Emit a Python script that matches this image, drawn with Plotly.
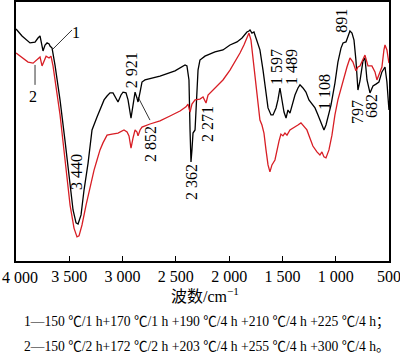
import plotly.graph_objects as go

# Curve 1 (black)
wn1 = [4000, 3944, 3869, 3822, 3794, 3775, 3747, 3728, 3709, 3690, 3681, 3662, 3634, 3587, 3540, 3493,
       3465, 3437, 3418, 3390, 3362, 3324, 3287, 3240, 3212, 3174, 3146, 3118, 3090, 3062, 3043, 3015,
       2996, 2968, 2949, 2921, 2902, 2883, 2865, 2855, 2836, 2818, 2790, 2649, 2508, 2414, 2396, 2377,
       2367, 2358, 2349, 2339, 2320, 2311, 2292, 2274, 2227, 2133, 2058, 1992, 1926, 1879, 1833, 1814,
       1804, 1786, 1767, 1748, 1711, 1682, 1664, 1635, 1607, 1588, 1560, 1542, 1523, 1504, 1485, 1466,
       1448, 1429, 1410, 1382, 1354, 1335, 1307, 1279, 1251, 1223, 1194, 1166, 1138, 1110, 1091, 1072,
       1044, 1007, 979, 950, 931, 903, 884, 866, 847, 828, 810, 791, 772, 744, 725, 706, 678, 650, 622,
       594, 566, 537, 519, 500]
t1 = [89.6, 86.9, 84.2, 84.5, 86.1, 86.9, 81.1, 83.4, 84.2, 83.8, 83.0, 82.2, 75.5, 62.1, 46.3, 28.4,
      19.7, 14.7, 14.3, 17.8, 27.4, 37.8, 50.6, 55.6, 58.3, 62.2, 63.7, 64.9, 64.9, 62.9, 61.4, 64.1,
      65.2, 64.9, 62.2, 55.2, 60.2, 65.2, 62.9, 61.4, 65.2, 69.1, 69.9, 71.4, 73.4, 75.7, 75.3, 69.9,
      50.6, 38.2, 42.9, 49.4, 50.6, 58.3, 73.7, 77.6, 79.1, 80.7, 81.5, 83.4, 84.6, 86.1, 88.4, 88.8,
      89.2, 88.0, 88.4, 86.1, 81.5, 73.7, 68.0, 59.1, 56.4, 56.4, 59.1, 62.2, 66.8, 62.2, 57.5, 55.2,
      58.3, 57.1, 59.8, 64.1, 66.8, 68.0, 66.8, 65.2, 62.2, 60.6, 59.1, 56.4, 53.7, 50.6, 52.5, 55.6,
      60.2, 68.7, 76.8, 82.2, 84.2, 84.6, 86.9, 88.8, 88.0, 85.3, 77.6, 66.0, 69.5, 77.2, 78.4, 69.9,
      64.9, 67.6, 68.3, 69.1, 73.0, 74.9, 69.1, 58.3]

# Curve 2 (red)
wn2 = [4000, 3944, 3887, 3840, 3812, 3775, 3756, 3737, 3718, 3690, 3672, 3653, 3625, 3587, 3540, 3493,
       3456, 3428, 3409, 3381, 3343, 3306, 3268, 3240, 3212, 3184, 3146, 3099, 3043, 2987, 2958, 2940,
       2921, 2902, 2883, 2865, 2855, 2836, 2818, 2743, 2649, 2555, 2461, 2405, 2386, 2367, 2349, 2320,
       2274, 2245, 2217, 2198, 2133, 2058, 1992, 1936, 1898, 1861, 1833, 1814, 1795, 1777, 1748, 1730,
       1711, 1692, 1673, 1654, 1635, 1617, 1598, 1570, 1551, 1532, 1514, 1495, 1476, 1457, 1429, 1391,
       1354, 1326, 1298, 1270, 1242, 1214, 1176, 1148, 1129, 1110, 1091, 1063, 1035, 1007, 979, 950,
       922, 894, 866, 838, 810, 791, 772, 753, 725, 697, 660, 631, 613, 584, 566, 547, 537, 519, 500]
t2 = [80.3, 78.4, 76.8, 76.4, 77.6, 78.8, 75.3, 77.6, 79.1, 78.4, 79.1, 75.3, 68.0, 56.4, 39.0, 21.6,
      12.7, 9.3, 9.7, 13.9, 21.6, 28.6, 35.1, 39.0, 42.9, 45.6, 48.6, 49.0, 49.4, 50.6, 49.8, 48.3,
      43.6, 47.5, 50.6, 49.8, 48.3, 50.6, 51.7, 52.9, 54.1, 56.0, 57.9, 59.5, 60.6, 57.5, 60.6, 62.2,
      62.5, 63.3, 61.0, 64.1, 66.8, 69.9, 73.7, 77.6, 80.3, 83.4, 86.1, 88.0, 85.3, 78.8, 68.0, 62.2,
      54.4, 52.5, 49.4, 42.9, 37.1, 34.4, 37.1, 39.0, 42.9, 46.3, 49.0, 48.3, 49.4, 48.6, 50.6, 51.4,
      52.5, 53.3, 52.1, 50.6, 47.5, 44.4, 42.1, 40.9, 42.1, 40.2, 39.8, 42.9, 48.6, 56.4, 62.2, 66.8,
      70.7, 74.9, 78.4, 76.8, 73.4, 74.9, 75.3, 77.2, 79.5, 75.3, 75.3, 73.0, 69.9, 73.0, 74.9, 81.5,
      83.4, 81.5, 76.4]

tick_vals = [4000, 3500, 3000, 2500, 2000, 1500, 1000, 500]
tick_text = ["4 000", "3 500", "3 000", "2 500", "2 000", "1 500", "1 000", "500"]

peak_labels = ["3 440", "2 921", "2 852", "2 362", "2 271", "1 597", "1 489", "1 108", "891", "797", "682"]
peak_x = [3428, 2921, 2733, 2358, 2198, 1560, 1420, 1110, 941, 800, 669]
peak_y = [34.4, 73.7, 45.2, 30.5, 52.9, 74.9, 74.9, 65.2, 92.7, 57.5, 59.8]

legend_lines = ["1—150 ℃/1 h+170 ℃/1 h +190 ℃/4 h +210 ℃/4 h +225 ℃/4 h；",
                "2—150 ℃/2 h+172 ℃/2 h +203 ℃/4 h +255 ℃/4 h +300 ℃/4 h。"]

FONT = "Liberation Serif, Times New Roman, Noto Sans CJK SC, serif"
RED = "#d81e25"

fig = go.Figure()
fig.add_trace(go.Scatter(x=wn1, y=t1, mode="lines", line=dict(color="black", width=1.3), showlegend=False))
fig.add_trace(go.Scatter(x=wn2, y=t2, mode="lines", line=dict(color=RED, width=1.3), showlegend=False))

for txt, x, y in zip(peak_labels, peak_x, peak_y):
    fig.add_annotation(x=x, y=y, text=txt, textangle=-90, showarrow=False,
                       font=dict(family=FONT, size=16, color="black"))

# curve number labels with leader lines
fig.add_annotation(x=3437, y=88.4, text="1", showarrow=False, font=dict(family=FONT, size=16, color="black"))
fig.add_annotation(x=3840, y=63.7, text="2", showarrow=False, font=dict(family=FONT, size=16, color="black"))
fig.add_shape(type="line", x0=3662, y0=81.5, x1=3475, y1=89.2, line=dict(color="black", width=0.8))
fig.add_shape(type="line", x0=3822, y0=75.7, x1=3822, y1=68.0, line=dict(color="black", width=0.8))
fig.add_shape(type="line", x0=2855, y0=63.3, x1=2743, y1=54.4, line=dict(color="black", width=0.8))

# first tick label placed flush with the left edge (as in the reference)
fig.add_annotation(xref="x", yref="paper", x=tick_vals[0], y=-0.062, text=tick_text[0],
                   xanchor="left", yanchor="middle", xshift=-16, showarrow=False,
                   font=dict(family=FONT, size=16, color="black"))

# axis title
fig.add_annotation(xref="paper", yref="paper", x=0.507, y=-0.131, text="波数/cm<sup>−1</sup>",
                   xanchor="center", yanchor="middle", showarrow=False,
                   font=dict(family=FONT, size=16, color="black"))

for i, line in enumerate(legend_lines):
    fig.add_annotation(xref="paper", yref="paper", x=0.016, y=[-0.2355, -0.332][i], text=line,
                       xanchor="left", yanchor="middle", showarrow=False,
                       font=dict(family=FONT, size=13.6, color="black"))

fig.update_layout(
    width=400, height=358,
    margin=dict(l=16, r=11, t=2, b=97, autoexpand=False),
    paper_bgcolor="white", plot_bgcolor="white",
    font=dict(family=FONT, size=16, color="black"),
    xaxis=dict(range=[4000.5, 499.5], tickvals=tick_vals, ticktext=[""] + tick_text[1:], ticks="inside",
               ticklen=5, tickcolor="black", showline=True, linecolor="black", linewidth=1.5, mirror=True,
               showgrid=False, zeroline=False, tickfont=dict(family=FONT, size=16),
               ticklabeloverflow="allow", automargin=False),
    yaxis=dict(range=[0, 100], showticklabels=False, ticks="", showline=True, linecolor="black",
               linewidth=1.5, mirror=True, showgrid=False, zeroline=False, automargin=False),
)

fig.write_html("out.html", config={"displayModeBar": False},
               post_script="document.body.style.margin='0';document.body.style.overflow='hidden';")
